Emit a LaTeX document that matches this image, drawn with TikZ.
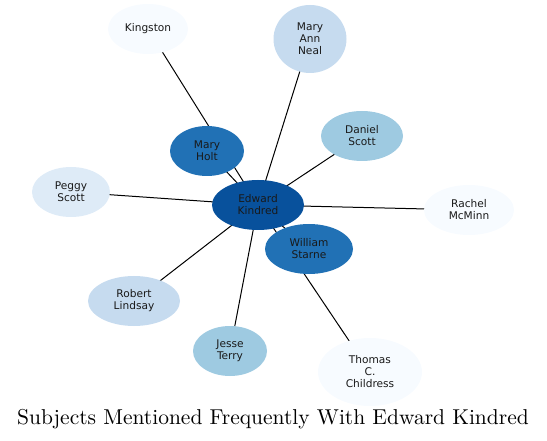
\documentclass[tikz,border=0pt]{standalone}
\usepackage{fontspec}
\newfontfamily\labelfont{DejaVu Sans}
\newfontfamily\titlefont{lmroman10-regular}[Extension=.otf]
\usepackage{xcolor}
\usetikzlibrary{shapes.geometric,backgrounds}

\definecolor{b1}{HTML}{F7FBFF}
\definecolor{b2}{HTML}{DEEBF7}
\definecolor{b3}{HTML}{C6DBEF}
\definecolor{b4}{HTML}{9ECAE1}
\definecolor{b6}{HTML}{2171B5}
\definecolor{b7}{HTML}{08519C}

\begin{document}
\begin{tikzpicture}[
  x=1pt, y=-1pt,
  ent/.style={ellipse, inner sep=0pt, align=center, minimum width=80pt, minimum height=50pt,
    font=\labelfont\fontsize{10.6}{12}\selectfont, text=black!90},
  lnk/.style={draw=black, line width=1pt}
]
\useasboundingbox (0,0) rectangle (547,441);

\node[ent, fill=b7, minimum width=92pt] (ek) at (258,205) {Edward\\Kindred};
\node[ent, fill=b1] (kin) at (148,29) {Kingston};
\node[ent, fill=b3, minimum width=73pt, minimum height=68pt] (man) at (310,39) {Mary\\Ann\\Neal};
\node[ent, fill=b4, minimum width=82pt] (ds) at (362,136) {Daniel\\Scott};
\node[ent, fill=b6, minimum width=74pt] (mh) at (207,151) {Mary\\Holt};
\node[ent, fill=b2, minimum width=78pt] (ps) at (71,192) {Peggy\\Scott};
\node[ent, fill=b1, minimum width=90pt] (rm) at (469,210) {Rachel\\McMinn};
\node[ent, fill=b6, minimum width=88pt] (ws) at (309,249) {William\\Starne};
\node[ent, fill=b3, minimum width=92pt] (rl) at (134,301) {Robert\\Lindsay};
\node[ent, fill=b4, minimum width=74pt] (jt) at (230,351) {Jesse\\Terry};
\node[ent, fill=b1, minimum width=104pt, minimum height=68pt] (tcc) at (370,372) {Thomas\\C.\\Childress};

% links behind the nodes
\begin{scope}[on background layer]
\foreach \n in {kin,man,ds,mh,ps,rm,ws,rl,jt,tcc}
  \draw[lnk] (ek.center) -- (\n.center);
\end{scope}

\node[font=\titlefont\fontsize{21.5}{26}\selectfont] (title) at (273,419) {Subjects Mentioned Frequently With Edward Kindred};
\end{tikzpicture}
\end{document}
